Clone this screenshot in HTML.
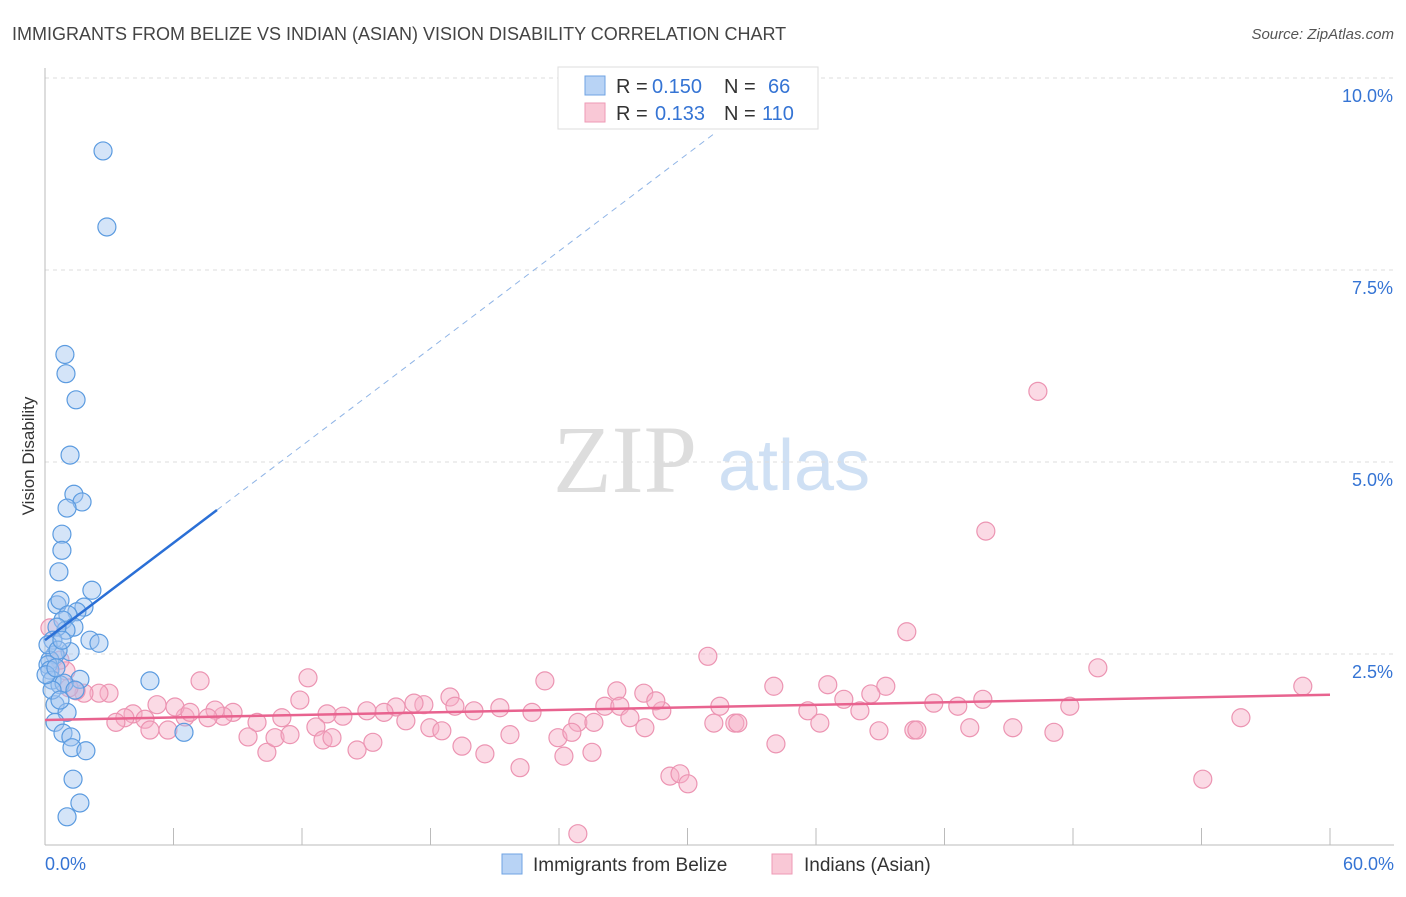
<!DOCTYPE html>
<html><head><meta charset="utf-8"><style>
body{margin:0;background:#fff;font-family:"Liberation Sans",sans-serif}
</style></head><body>
<svg id="chart" width="1406" height="892" xmlns="http://www.w3.org/2000/svg" font-family="Liberation Sans, sans-serif">
<text x="12" y="40" font-size="18" fill="#444">IMMIGRANTS FROM BELIZE VS INDIAN (ASIAN) VISION DISABILITY CORRELATION CHART</text>
<text x="1394" y="39" font-size="15" fill="#555" font-style="italic" text-anchor="end">Source: ZipAtlas.com</text>
<g>
<text x="553" y="492" font-size="96" fill="#ddd" style="font-family:'Liberation Serif',serif">ZIP</text>
<text x="718" y="490" font-size="72" fill="#cfe0f4">atlas</text>
</g>
<g id="grid"></g><g id="axes"></g><g id="marks"></g>
<text transform="translate(34,456) rotate(-90)" font-size="17" fill="#333" text-anchor="middle">Vision Disability</text>
<g>
<rect x="558" y="67" width="260" height="62" fill="#fff" stroke="#ddd"/>
<rect x="585" y="76" width="20" height="19" fill="#b8d3f5" stroke="#6fa3e3"/>
<text x="616" y="93" font-size="20" fill="#333">R =</text>
<text x="652" y="93" font-size="20" fill="#3574d4">0.150</text>
<text x="724" y="93" font-size="20" fill="#333">N =</text>
<text x="768" y="93" font-size="20" fill="#3574d4">66</text>
<rect x="585" y="103" width="20" height="19" fill="#f9c8d6" stroke="#ee9ab5"/>
<text x="616" y="120" font-size="20" fill="#333">R =</text>
<text x="655" y="120" font-size="20" fill="#3574d4">0.133</text>
<text x="724" y="120" font-size="20" fill="#333">N =</text>
<text x="762" y="120" font-size="20" fill="#3574d4">110</text>
</g>
<g>
<rect x="502" y="854" width="20" height="20" fill="#b8d3f5" stroke="#6fa3e3"/>
<text x="533" y="871" font-size="19" fill="#333">Immigrants from Belize</text>
<rect x="772" y="854" width="20" height="20" fill="#f9c8d6" stroke="#ee9ab5"/>
<text x="804" y="871" font-size="19" fill="#333">Indians (Asian)</text>
</g>
</svg>
<script>
const yTicks=[2.5,5.0,7.5,10.0];
const yTickLabels=["2.5%","5.0%","7.5%","10.0%"];
const xTicks=[0,6,12,18,24,30,36,42,48,54,60];
const blueX=[2.71,2.89,0.93,0.98,1.45,1.17,1.35,1.73,1.03,0.79,0.79,0.65,2.19,0.56,0.70,1.82,1.49,1.07,0.84,1.35,0.98,0.56,2.10,2.52,0.37,1.17,0.47,0.23,0.14,0.23,0.33,1.63,0.70,0.89,4.90,0.47,1.03,0.47,0.84,1.21,1.26,1.91,6.49,1.31,1.63,1.03,0.14,0.33,0.61,0.05,0.70,1.40,0.79,0.51];
const blueY=[9.05,8.06,6.40,6.15,5.81,5.09,4.58,4.48,4.40,4.06,3.85,3.57,3.33,3.14,3.20,3.11,3.05,3.01,2.94,2.85,2.81,2.85,2.68,2.64,2.68,2.53,2.49,2.42,2.36,2.29,2.16,2.17,2.10,2.12,2.15,1.84,1.74,1.61,1.47,1.42,1.28,1.24,1.48,0.87,0.56,0.38,2.62,2.03,2.55,2.23,1.90,2.03,2.68,2.32];
const pinkX=[46.36,43.93,30.95,40.24,49.16,58.73,7.24,12.28,23.34,26.70,27.96,34.03,36.55,39.26,37.30,38.56,41.50,43.79,42.62,47.85,38.05,35.62,31.51,28.80,28.52,26.14,26.84,24.88,25.63,22.74,21.24,20.03,18.91,19.14,17.69,17.23,16.39,15.83,15.03,13.91,13.17,11.90,11.06,9.90,8.78,8.31,7.94,6.54,6.07,5.23,4.11,3.73,2.99,2.52,1.82,1.45,0.98,1.12,0.70,0.23,3.31,4.67,4.90,5.74,6.77,7.61,9.48,10.36,10.74,11.44,12.65,12.98,13.40,14.57,15.31,16.85,17.97,18.53,19.47,20.54,21.71,22.18,23.95,24.23,24.60,25.54,27.31,28.01,29.18,29.65,30.02,31.23,32.21,32.35,34.13,36.18,38.94,40.57,40.71,43.18,45.19,47.11,54.06,55.84,24.88];
const pinkY=[5.92,4.10,2.47,2.79,2.32,2.08,2.15,2.19,2.15,2.02,1.99,2.08,2.10,2.08,1.91,1.98,1.86,1.91,1.82,1.82,1.76,1.76,1.82,1.76,1.89,1.82,1.82,1.61,1.61,1.74,1.80,1.76,1.94,1.82,1.84,1.86,1.81,1.74,1.76,1.69,1.72,1.90,1.67,1.61,1.74,1.69,1.77,1.68,1.81,1.84,1.72,1.67,1.99,1.99,1.99,2.02,2.28,2.06,2.42,2.84,1.61,1.65,1.51,1.51,1.74,1.67,1.42,1.22,1.41,1.45,1.55,1.38,1.41,1.25,1.35,1.63,1.54,1.50,1.30,1.20,1.45,1.02,1.41,1.17,1.48,1.22,1.67,1.54,0.91,0.94,0.81,1.60,1.60,1.60,1.33,1.60,1.50,1.51,1.51,1.54,1.54,1.48,0.87,1.67,0.16];
const blueTrend=[0,2.68,8.03,4.375];
const pinkTrend=[0,1.64,60,1.97];
const NS="http://www.w3.org/2000/svg";
const sx=v=>45+v*(1285/60), sy=v=>846-v*76.8;
function mk(tag,attrs,parent){const e=document.createElementNS(NS,tag);for(const k in attrs)e.setAttribute(k,attrs[k]);parent.appendChild(e);return e;}
const grid=document.getElementById('grid'),axes=document.getElementById('axes'),marks=document.getElementById('marks');
yTicks.forEach((t,i)=>{
 const l=mk('line',{x1:45,x2:1394,y1:sy(t),y2:sy(t),stroke:'#ddd','stroke-dasharray':'4,4'},grid);
 
 
 const tx=mk('text',{x:1393,y:sy(t)+24,'font-size':18,fill:'#3574d4','text-anchor':'end'},axes);
 tx.textContent=yTickLabels[i];
 
 
});
const ax=mk('line',{x1:45,x2:1394,y1:845,y2:845,stroke:'#bbb'},axes);


const ay=mk('line',{x1:45,x2:45,y1:68,y2:845,stroke:'#bbb'},axes);


xTicks.forEach(t=>{const l=mk('line',{x1:sx(t),x2:sx(t),y1:828,y2:845,stroke:'#bbb'},axes);
 
 });
const xl0=mk('text',{x:45,y:870,'font-size':18,fill:'#3574d4'},axes);xl0.textContent=xTicks[0].toFixed(1)+'%';


const xl1=mk('text',{x:1394,y:870,'font-size':18,fill:'#3574d4','text-anchor':'end'},axes);xl1.textContent=xTicks[xTicks.length-1].toFixed(1)+'%';


pinkX.forEach((x,i)=>{const c=mk('circle',{cx:sx(x),cy:sy(pinkY[i]),r:9,fill:'rgba(246,172,198,0.45)',stroke:'#ec94b2','stroke-width':1.2},marks);
 
 });
blueX.forEach((x,i)=>{const c=mk('circle',{cx:sx(x),cy:sy(blueY[i]),r:9,fill:'rgba(160,196,240,0.45)',stroke:'#5b9be0','stroke-width':1.2},marks);
 
 });
const slope=(blueTrend[3]-blueTrend[1])/(blueTrend[2]-blueTrend[0]);
const dEnd=31.3;
const bd=mk('line',{x1:sx(blueTrend[2]),y1:sy(blueTrend[3]),x2:sx(dEnd),y2:sy(blueTrend[1]+slope*dEnd),stroke:'#8fb4e6','stroke-width':1,'stroke-dasharray':'6,5'},marks);


const bl=mk('line',{x1:sx(blueTrend[0]),y1:sy(blueTrend[1]),x2:sx(blueTrend[2]),y2:sy(blueTrend[3]),stroke:'#2a6fd6','stroke-width':2.5},marks);


const pl=mk('line',{x1:sx(pinkTrend[0]),y1:sy(pinkTrend[1]),x2:sx(pinkTrend[2]),y2:sy(pinkTrend[3]),stroke:'#e8638f','stroke-width':2.5},marks);


</script>
</body></html>
